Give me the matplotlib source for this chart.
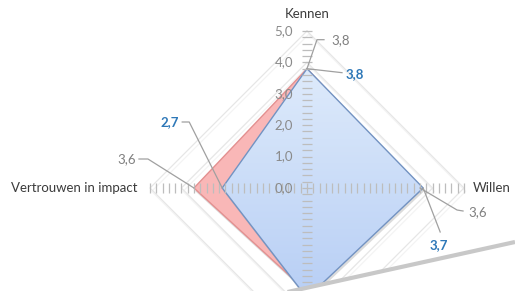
import numpy as np
import matplotlib
matplotlib.use("Agg")
import matplotlib.pyplot as plt
from matplotlib.patches import Polygon
from matplotlib.lines import Line2D
from matplotlib.transforms import IdentityTransform
from matplotlib import patheffects as pe

# ---------------- data ----------------
categories = ["Kennen", "Willen", "Kunnen", "Vertrouwen in impact"]
series_pink = [3.8, 3.6, 3.3, 3.6]
series_blue = [3.8, 3.7, 3.5, 2.7]
pink_labels = ["3,8", "3,6", "", "3,6"]
blue_labels = ["3,8", "3,7", "", "2,7"]
ring_values = [1, 2, 3, 4, 5]
scale_ticks = [0, 1, 2, 3, 4, 5]
scale_tick_labels = ["0,0", "1,0", "2,0", "3,0", "4,0", "5,0"]

# ---------------- layout ----------------
W, H = 515, 291
CX, CY = 307, 188          # centre of the radar in image pixels (y from top)
S = 31.4                   # pixels per unit
angles = np.deg2rad([90, 0, -90, 180])

plt.rcParams["font.family"] = ["Lato", "DejaVu Sans"]
fig = plt.figure(figsize=(W / 100, H / 100), dpi=100)
ax = fig.add_axes([0, 0, 1, 1])
ax.set_xlim(-CX / S, (W - CX) / S)
ax.set_ylim(-(H - CY) / S, CY / S)
ax.axis("off")


def xy(values):
    v = np.asarray(values, dtype=float)
    return np.column_stack([v * np.cos(angles), v * np.sin(angles)])


# grid rings
for r in ring_values:
    pts = xy([r] * 4)
    pts = np.vstack([pts, pts[:1]])
    ax.plot(pts[:, 0], pts[:, 1], color="#e6e6e6", lw=0.9, zorder=1,
            path_effects=[pe.SimpleLineShadow(offset=(1.2, -2.4), shadow_color="#ececec", alpha=0.6),
                          pe.Normal()])

shadow = [pe.SimplePatchShadow(offset=(0.8, -2.2), shadow_rgbFace="#8a8a8a", alpha=0.3), pe.Normal()]

# pink series
pink_poly = Polygon(xy(series_pink), closed=True, facecolor="#f9b7b7",
                    edgecolor="#e39090", lw=1.0, zorder=2, path_effects=shadow)
ax.add_patch(pink_poly)

# blue series (with slight vertical gradient)
blue_pts = xy(series_blue)
blue_poly = Polygon(blue_pts, closed=True, facecolor="#c3d6f6",
                    edgecolor="none", zorder=3, path_effects=shadow)
ax.add_patch(blue_poly)
grad = np.linspace(0, 1, 200)[:, None]
c_top = np.array([0.87, 0.92, 0.985])
c_bot = np.array([0.72, 0.81, 0.96])
img = c_top[None, None, :] * (1 - grad[:, :, None]) + c_bot[None, None, :] * grad[:, :, None]
x0, x1 = blue_pts[:, 0].min(), blue_pts[:, 0].max()
y0, y1 = blue_pts[:, 1].min(), blue_pts[:, 1].max()
im = ax.imshow(img, extent=[x0, x1, y0, y1], origin="upper", aspect="auto", zorder=3.1)
clip_poly = Polygon(blue_pts, closed=True, transform=ax.transData, facecolor="none")
im.set_clip_path(clip_poly)
ax.add_patch(Polygon(blue_pts, closed=True, facecolor="none", edgecolor="#7393c2",
                     lw=1.0, zorder=3.2))
ax.set_xlim(-CX / S, (W - CX) / S)
ax.set_ylim(-(H - CY) / S, CY / S)

# axis tick marks (every 0.2)
minor = np.round(np.arange(-5, 5.0001, 0.2), 2)
ax.plot(minor, np.zeros_like(minor), ls="none", marker="|", ms=6.5, mew=0.9,
        color="#bdbdbd", zorder=4)
ax.plot(np.zeros_like(minor), minor, ls="none", marker="_", ms=6.5, mew=0.9,
        color="#bdbdbd", zorder=4)

# scale labels
for v, lab in zip(scale_ticks, scale_tick_labels):
    ax.annotate(lab, (0, v), xytext=(-14, 0), textcoords="offset pixels",
                ha="right", va="center", fontsize=9.5, color="#8a8a8a", zorder=5)

# category labels
cat_offsets = [(0, 17, "center"), (9, 0, "left"), (0, -17, "center"), (-12, 0, "right")]
for ang, lab, (dx, dy, ha) in zip(angles, categories, cat_offsets):
    ax.annotate(lab, (5 * np.cos(ang), 5 * np.sin(ang)), xytext=(dx, dy),
                textcoords="offset pixels", ha=ha, va="center", fontsize=9.5,
                color="#3c3c3c", zorder=5)

# data labels with leader lines  (offsets in pixels, y up)
pink_leaders = [
    [(10, 29), (17, 29)], [(37, -22), (43, -23)], None, [(-46, 29), (-55, 29)],
]
pink_text = [(24, 29, "left"), (48, -24, "left"), None, (-58, 29, "right")]
blue_leaders = [
    [(35, -4)], [(17, -44)], None, [(-33, 66), (-40, 66)],
]
blue_text = [(39, -5, "left"), (16, -57, "center"), None, (-43, 66, "right")]

fig.canvas.draw()


def leader(point, segs, color="#a0a0a0"):
    px, py = ax.transData.transform(point)
    xs = [px] + [px + d[0] for d in segs]
    ys = [py] + [py + d[1] for d in segs]
    fig.add_artist(Line2D(xs, ys, transform=IdentityTransform(), color=color,
                          lw=0.9, zorder=6))


for pts_, labels, leads, texts, col, wt in [
    (xy(series_pink), pink_labels, pink_leaders, pink_text, "#7f7f7f", "normal"),
    (xy(series_blue), blue_labels, blue_leaders, blue_text, "#2e78b8", "bold"),
]:
    for p, lab, ld, tx in zip(pts_, labels, leads, texts):
        if not lab:
            continue
        leader(p, ld)
        ax.annotate(lab, p, xytext=(tx[0], tx[1]), textcoords="offset pixels",
                    ha=tx[2], va="center", fontsize=9.5, color=col,
                    fontweight=wt, zorder=7)

# page-curl overlay at the bottom right
curl = [(283, 293), (515, 242), (520, 300), (283, 300)]
curl_fig = [(x / W, 1 - y / H) for x, y in curl]
fig.add_artist(Polygon(curl_fig, closed=True, transform=fig.transFigure,
                       facecolor="white", edgecolor="none", zorder=20))
fig.add_artist(Line2D([283 / W, 515 / W], [1 - 293 / H, 1 - 242 / H],
                      transform=fig.transFigure, color="#c8c8c8", lw=3.0,
                      zorder=21, solid_capstyle="butt"))

fig.savefig("out.png", dpi=100)
